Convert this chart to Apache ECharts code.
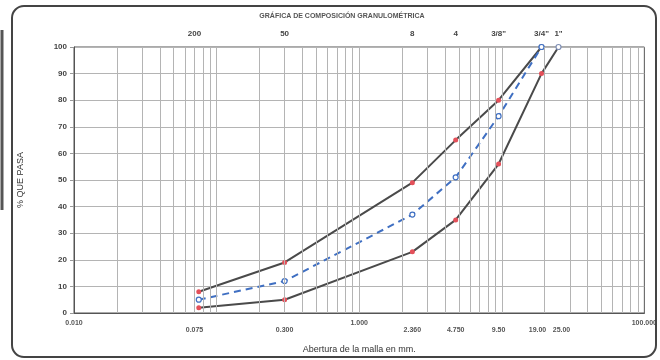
<!DOCTYPE html>
<html><head><meta charset="utf-8">
<script src="https://cdn.jsdelivr.net/npm/echarts@6/dist/echarts.min.js"></script>
<style>html,body{margin:0;padding:0;background:#fff}#c{width:660px;height:360px}</style>
</head><body><div id="c"></div>
<script>
// Sieve openings (mm) and sieve names
const sieveSizes = [0.075, 0.300, 2.360, 4.750, 9.50, 19.00, 25.00];
const sieveSizeLabels = ['0.075', '0.300', '2.360', '4.750', '9.50', '19.00', '25.00'];
const sieveNames = ['200', '50', '8', '4', '3/8"', '3/4"', '1"'];
// Upper limit, sample, lower limit (% passing)
const upperSizes = [0.075, 0.300, 2.360, 4.750, 9.50, 19.00];
const upperValues = [8, 19, 49, 65, 80, 100];
const sampleSizes = [0.075, 0.300, 2.360, 4.750, 9.50, 19.00];
const sampleValues = [5, 12, 37, 51, 74, 100];
const lowerSizes = [0.075, 0.300, 2.360, 4.750, 9.50, 19.00, 25.00];
const lowerValues = [2, 5, 23, 35, 56, 90, 100];
const yTicks = [0, 10, 20, 30, 40, 50, 60, 70, 80, 90, 100];
const decadeLabels = {'-2': '0.010', '0': '1.000', '2': '100.000'};
const logGridValues = [
  0.02,0.03,0.04,0.05,0.06,0.07,0.08,0.09,0.1,
  0.2,0.3,0.4,0.5,0.6,0.7,0.8,0.9,1,
  2,3,4,5,6,7,8,9,10,
  20,30,40,50,60,70,80,90
];

const FONT = 'Liberation Sans, Arial, sans-serif';
const RED = '#e4505a', DARK = '#4a4a4a', BLUE = '#3f6fc2';
const bottomPad = [[0,0,0,0],[0,0,0,0],[0,0,0,0],[0,0,0,0],[0,0,0,0],[0,8,0,0],[0,0,0,6]];

function pts(xs, ys, hollowColor) {
  return xs.map((x, i) => {
    const d = {value: [x, ys[i]]};
    if (ys[i] === 100) d.itemStyle = {color: '#fff', borderColor: hollowColor, borderWidth: 1.2};
    return d;
  });
}

const chart = echarts.init(document.getElementById('c'), null, {renderer: 'canvas'});
chart.setOption({
  animation: false,
  backgroundColor: '#fff',
  textStyle: {fontFamily: FONT},
  title: {
    text: 'GRÁFICA DE COMPOSICIÓN GRANULOMÉTRICA',
    left: 337, top: 8, textAlign: 'center',
    textStyle: {fontSize: 7, fontWeight: 'bold', color: '#555', fontFamily: FONT}
  },
  graphic: [
    {type: 'rect', shape: {x: 12, y: 6, width: 644, height: 351, r: 12},
     style: {fill: 'none', stroke: '#444', lineWidth: 2}, z: 100, silent: true},
    {type: 'line', shape: {x1: 2, y1: 30, x2: 2, y2: 210},
     style: {stroke: '#555', lineWidth: 3}, silent: true}
  ],
  grid: {left: 74, right: 15, top: 47, bottom: 47, show: true, borderColor: '#555', borderWidth: 1, backgroundColor: 'transparent'},
  xAxis: {
    type: 'log', logBase: 10, min: 0.01, max: 100,
    name: 'Abertura de la malla en mm.', nameLocation: 'middle', nameGap: 32,
    nameTextStyle: {fontSize: 9, color: '#333', fontFamily: FONT},
    axisLine: {lineStyle: {color: '#555', width: 1}},
    axisTick: {show: false},
    splitLine: {show: false},
    axisLabel: {
      margin: 7, fontSize: 7, fontWeight: 'bold', color: '#555', fontFamily: FONT,
      formatter: v => decadeLabels[String(Math.round(Math.log10(v)))] || ''
    }
  },
  yAxis: {
    type: 'value', min: 0, max: 100, interval: 10,
    name: '% QUE PASA', nameLocation: 'middle', nameGap: 49, nameRotate: 90,
    nameTextStyle: {fontSize: 9, color: '#333', fontFamily: FONT},
    axisLine: {show: true, lineStyle: {color: '#555'}},
    axisTick: {show: true, length: 4, lineStyle: {color: '#999'}},
    splitLine: {lineStyle: {color: '#b4b4b4', width: 1}},
    axisLabel: {margin: 7, fontSize: 8, fontWeight: 'bold', color: '#444', fontFamily: FONT,
      formatter: v => yTicks.includes(v) ? String(v) : ''}
  },
  series: [
    {
      type: 'line', data: [[0.01, 0]], symbol: 'none', silent: true, z: 1,
      lineStyle: {opacity: 0},
      markLine: {
        silent: true, symbol: 'none', animation: false,
        lineStyle: {color: '#b4b4b4', width: 1, type: 'solid'},
        label: {show: false},
        data: logGridValues.map(v => ({xAxis: v}))
      }
    },
    {
      type: 'line', data: [[0.01, 0]], symbol: 'none', silent: true, z: 1,
      lineStyle: {opacity: 0},
      markLine: {
        silent: true, symbol: 'none', animation: false,
        lineStyle: {color: 'rgba(0,0,0,0)', width: 0, type: 'solid'},
        data: sieveSizes.map((s, i) => ({xAxis: s, label: {show: true, position: 'end', distance: 9,
          formatter: sieveNames[i], fontSize: 8, fontWeight: 'bold', color: '#444', fontFamily: FONT}}))
          .concat(sieveSizes.map((s, i) => ({xAxis: s, label: {show: true, position: 'start', distance: 14,
          padding: bottomPad[i],
          formatter: sieveSizeLabels[i], fontSize: 7, fontWeight: 'bold', color: '#555', fontFamily: FONT}})))
      }
    },
    {
      name: 'Superior', type: 'line', z: 3,
      data: pts(upperSizes, upperValues, '#7f8fb5'),
      symbol: 'circle', symbolSize: 5,
      lineStyle: {color: DARK, width: 2},
      itemStyle: {color: RED}
    },
    {
      name: 'Inferior', type: 'line', z: 3,
      data: pts(lowerSizes, lowerValues, '#7f8fb5'),
      symbol: 'circle', symbolSize: 5,
      lineStyle: {color: DARK, width: 2},
      itemStyle: {color: RED}
    },
    {
      name: 'Muestra', type: 'line', z: 4,
      data: pts(sampleSizes, sampleValues, BLUE),
      symbol: 'circle', symbolSize: 5,
      lineStyle: {color: BLUE, width: 2, type: [7, 5]},
      itemStyle: {color: '#fff', borderColor: BLUE, borderWidth: 1.2}
    }
  ]
});
</script></body></html>
